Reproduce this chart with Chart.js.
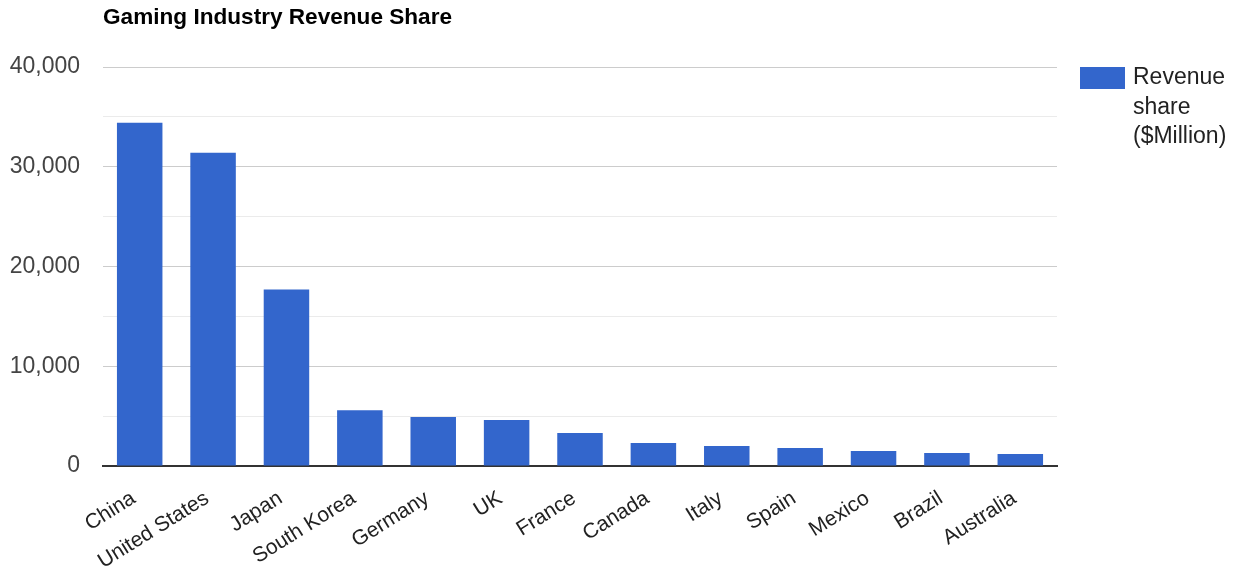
<!DOCTYPE html>
<html>
<head>
<meta charset="utf-8">
<script src="https://cdn.jsdelivr.net/npm/chart.js@4"></script>
<style>
  html, body { margin: 0; padding: 0; background: #fff; }
  #wrap { width: 1233px; height: 569px; position: relative; }
</style>
</head>
<body>
<div id="wrap"><canvas id="revenueChart"></canvas></div>
<script>
const chartTitle = 'Gaming Industry Revenue Share';
const seriesLabel = ['Revenue', 'share', '($Million)'];
const countries = ['China', 'United States', 'Japan', 'South Korea', 'Germany', 'UK', 'France',
    'Canada', 'Italy', 'Spain', 'Mexico', 'Brazil', 'Australia'];
const revenue = [34400, 31400, 17700, 5600, 4900, 4600, 3300, 2300, 2000, 1800, 1500, 1300, 1200];

const FONT = '"Liberation Sans", Arial, sans-serif';
const BAR_COLOR = '#3366cc';

// title and the wrapped legend on the right are drawn by hand
const extrasPlugin = {
    id: 'extras',
    afterDraw(chart) {
        const ctx = chart.ctx;
        const area = chart.chartArea;
        ctx.save();
        ctx.fillStyle = '#000';
        ctx.font = 'bold 22.6px ' + FONT;
        ctx.textBaseline = 'middle';
        ctx.textAlign = 'left';
        ctx.fillText(chartTitle, area.left, 18);

        const lx = area.right + 23;
        ctx.fillStyle = BAR_COLOR;
        ctx.fillRect(lx, area.top, 45, 22);
        ctx.fillStyle = '#222';
        ctx.font = '23px ' + FONT;
        seriesLabel.forEach((line, i) => {
            ctx.fillText(line, lx + 53, area.top + 11 + i * 29.5);
        });
        ctx.restore();
    }
};

const ctx = document.getElementById('revenueChart').getContext('2d');
new Chart(ctx, {
    type: 'bar',
    data: {
        labels: countries,
        datasets: [{
            label: seriesLabel.join(' '),
            data: revenue,
            backgroundColor: BAR_COLOR,
            barPercentage: 0.62,
            categoryPercentage: 1.0
        }]
    },
    options: {
        responsive: true,
        maintainAspectRatio: false,
        animation: false,
        layout: { padding: { top: 67, right: 176, left: 0, bottom: 0 } },
        plugins: {
            legend: { display: false },
            title: { display: false },
            tooltip: { enabled: false }
        },
        scales: {
            x: {
                grid: { display: false, drawTicks: false },
                border: { color: '#333', width: 2 },
                ticks: {
                    autoSkip: false,
                    minRotation: 32,
                    maxRotation: 32,
                    padding: 20,
                    labelOffset: -6,
                    color: '#222',
                    font: { family: FONT, size: 21 }
                },
                afterFit(scale) { scale.height = 103; }
            },
            y: {
                min: 0,
                max: 40000,
                border: { display: false },
                grid: {
                    drawTicks: false,
                    color: c => (c.tick && c.tick.value % 10000 === 0) ? '#cccccc' : '#ebebeb',
                    lineWidth: 1
                },
                ticks: {
                    stepSize: 5000,
                    padding: 23,
                    color: '#444',
                    font: { family: FONT, size: 23 },
                    callback: v => v % 10000 === 0 ? v.toLocaleString('en-US') : ''
                },
                afterFit(scale) { scale.width = 103; }
            }
        }
    },
    plugins: [extrasPlugin]
});
</script>
</body>
</html>
